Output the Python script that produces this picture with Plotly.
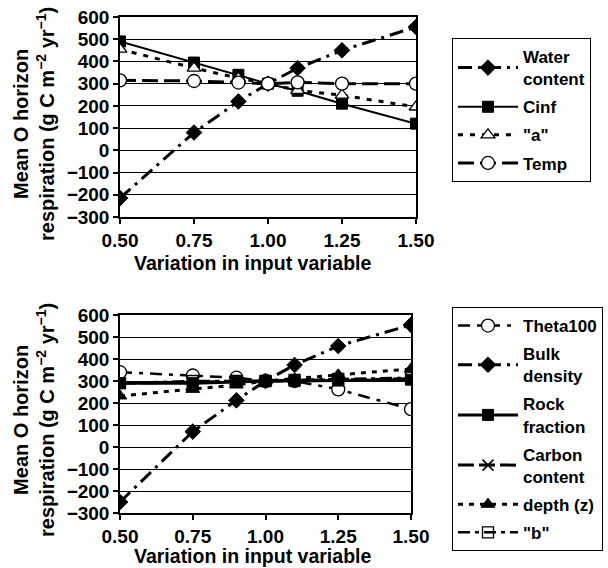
import plotly.graph_objects as go

# ---------------- data ----------------
x_vals = [0.50, 0.75, 0.90, 1.00, 1.10, 1.25, 1.50]
x_ticks = [0.50, 0.75, 1.00, 1.25, 1.50]
x_tick_labels = ["0.50", "0.75", "1.00", "1.25", "1.50"]
y_ticks = [600, 500, 400, 300, 200, 100, 0, -100, -200, -300]

# top panel
water_content = [-215, 80, 220, 300, 370, 450, 555]
cinf = [490, 395, 340, 300, 268, 210, 120]
a_param = [455, 370, 325, 300, 270, 248, 195]
temp = [315, 312, 305, 300, 306, 300, 300]

# bottom panel
theta100 = [340, 325, 315, 300, 300, 262, 172]
bulk_density = [-250, 70, 212, 300, 373, 459, 555]
rock_fraction = [290, 290, 295, 300, 300, 302, 306]
carbon_content = [290, 295, 298, 300, 302, 305, 310]
depth_z = [232, 262, 282, 300, 310, 328, 355]
b_param = [290, 300, 300, 300, 305, 310, 315]

FONT = "Liberation Sans, Arial, sans-serif"
fig = go.Figure()

def add(name, y, xa, ya, legend, dash, width, symbol, size, fill, lw=1.5):
    fig.add_trace(go.Scatter(
        x=x_vals, y=y, name=name, xaxis=xa, yaxis=ya, legend=legend,
        legendgroup=name, mode="lines+markers",
        line=dict(color="black", width=width, dash=dash),
        marker=dict(symbol=symbol, size=size, color=fill,
                    line=dict(color="black", width=lw)),
    ))

# top
add("Water<br>content", water_content, "x", "y", "legend", "14px,6px,3px,6px", 3, "diamond", 12, "black", 1)
add("Cinf", cinf, "x", "y", "legend", "solid", 2, "square", 11, "black", 1)
add("\"a\"", a_param, "x", "y", "legend", "5px,7px", 3, "triangle-up", 12, "white", 1.3)
add("Temp", temp, "x", "y", "legend", "16px,6px", 3, "circle", 13, "white", 1.3)

# bottom
add("Theta100", theta100, "x2", "y2", "legend2", "12px,7px,4px,7px", 2.5, "circle", 13, "white", 1.3)
add("Bulk<br>density", bulk_density, "x2", "y2", "legend2", "14px,6px,3px,6px", 3, "diamond", 12, "black", 1)
add("Rock<br>fraction", rock_fraction, "x2", "y2", "legend2", "solid", 3, "square", 11, "black", 1)
add("Carbon<br>content", carbon_content, "x2", "y2", "legend2", "16px,5px", 3, "x-thin-open", 11, "black", 1.5)
add("depth (z)", depth_z, "x2", "y2", "legend2", "5px,6px", 3, "triangle-up", 12, "black", 1)
add("\"b\"", b_param, "x2", "y2", "legend2", "12px,5px,4px,5px", 2.5, "square-open-dot", 11, "black", 1.3)

axis_common = dict(
    showline=True, linecolor="black", linewidth=1.5, mirror=True, automargin=False,
    ticks="outside", ticklen=5, tickcolor="black", tickwidth=1.5,
    tickfont=dict(family=FONT, size=19, color="black", weight="bold"),
)
xax = dict(axis_common, range=[0.5, 1.5], tickvals=x_ticks, ticktext=x_tick_labels,
           showgrid=False, zeroline=False)
yax = dict(axis_common, range=[-300, 600], tickvals=y_ticks,
           ticktext=[("\u2212" + str(-v)) if v < 0 else str(v) for v in y_ticks],
           showgrid=True, gridcolor="black", gridwidth=1, zeroline=False)

legend_common = dict(xanchor="left", yanchor="top", bordercolor="black", borderwidth=1,
                     itemwidth=60, tracegroupgap=3, bgcolor="white",
                     font=dict(family=FONT, size=17, color="black", weight="bold"))

fig.update_layout(
    template="none",
    width=608, height=568, margin=dict(l=0, r=0, t=0, b=0, autoexpand=False),
    paper_bgcolor="white", plot_bgcolor="white", showlegend=True,
    xaxis=dict(xax, domain=[120/608, 416/608], anchor="y"),
    yaxis=dict(yax, domain=[1-217/568, 1-17/568], anchor="x"),
    xaxis2=dict(xax, domain=[120/608, 411/608], anchor="y2"),
    yaxis2=dict(yax, domain=[1-513/568, 1-315/568], anchor="x2"),
    legend=dict(legend_common, x=452/608, y=1-38/568),
    legend2=dict(legend_common, x=452/608, y=1-307/568),
)

ytitle = "Mean O horizon<br>respiration (g C m<sup>\u22122</sup> yr<sup>\u22121</sup>)"
xtitle = "Variation in input variable"
for yc, xc in [(124, 263), (420, 556)]:
    fig.add_annotation(x=34/608, y=1-yc/568, xref="paper", yref="paper",
                       xanchor="center", yanchor="middle",
                       text=ytitle, textangle=-90, showarrow=False,
                       font=dict(family=FONT, size=20, color="black", weight="bold"))
    fig.add_annotation(x=252/608, y=1-xc/568, xref="paper", yref="paper",
                       xanchor="center", yanchor="middle",
                       text=xtitle, showarrow=False,
                       font=dict(family=FONT, size=19.5, color="black", weight="bold"))

fig.write_html("out.html")
